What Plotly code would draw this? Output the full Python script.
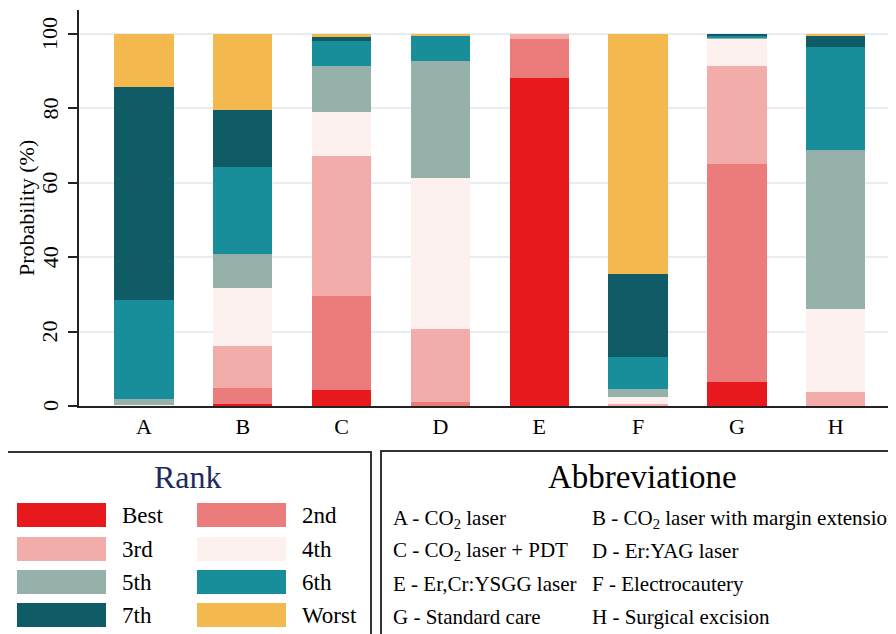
import plotly.graph_objects as go

categories = ["A", "B", "C", "D", "E", "F", "G", "H"]
rank_names = ["Best", "2nd", "3rd", "4th", "5th", "6th", "7th", "Worst"]
rank_colors = ["#E8191C", "#EC7B7B", "#F2ADAA", "#FDF1EF", "#95B1AA", "#188E9B", "#0F5B66", "#F3B94E"]

best = [0, 0.6, 4.3, 0, 88.3, 0, 6.4, 0]
second = [0, 4.3, 25.4, 1.0, 10.4, 0.2, 58.6, 0]
third = [0, 11.2, 37.4, 19.7, 1.3, 0.3, 26.5, 3.7]
fourth = [0.3, 15.7, 12.0, 40.7, 0, 1.8, 7.2, 22.3]
fifth = [1.6, 9.0, 12.4, 31.3, 0, 2.2, 0.4, 42.7]
sixth = [26.6, 23.4, 6.7, 6.8, 0, 8.8, 0.4, 27.8]
seventh = [57.3, 15.5, 1.0, 0.2, 0, 22.1, 0.5, 3.0]
worst = [14.2, 20.3, 0.8, 0.3, 0, 64.6, 0, 0.5]
series = [best, second, third, fourth, fifth, sixth, seventh, worst]

y_ticks = [0, 20, 40, 60, 80, 100]
y_title = "Probability (%)"

abbreviations = [
    "A - CO<sub>2</sub> laser", "B - CO<sub>2</sub> laser with margin extension",
    "C - CO<sub>2</sub> laser + PDT", "D - Er:YAG laser",
    "E - Er,Cr:YSGG laser", "F - Electrocautery",
    "G - Standard care", "H - Surgical excision",
]

FONT = "Liberation Serif, Times New Roman, serif"
OFF = 8  # page body margin
W, H = 896 - OFF, 634 - OFF
ML, MR, MT, MB = 79 - OFF, 0, 10 - OFF, 228
PW, PH = W - ML - MR, H - MT - MB


def px(x):
    return (x - OFF - ML) / PW


def py(y):
    return (H - MB - (y - OFF)) / PH


fig = go.Figure()
for name, vals, col in zip(rank_names, series, rank_colors):
    fig.add_trace(go.Bar(
        x=list(range(len(categories))), y=vals, name=name,
        marker=dict(color=col, line=dict(width=0)), width=0.6,
        showlegend=False,
    ))

shapes = []
annotations = []

# rotated y tick labels and title (placed on the y scale)
for v in y_ticks:
    annotations.append(dict(text=str(v), xref="paper", yref="y", x=px(50), y=v,
                            xanchor="center", yanchor="middle", textangle=-90, showarrow=False,
                            font=dict(family=FONT, size=22, color="#000000")))
annotations.append(dict(text=y_title, xref="paper", yref="paper", x=px(26), y=0.5,
                        xanchor="center", yanchor="middle", textangle=-90, showarrow=False,
                        font=dict(family=FONT, size=22, color="#000000")))

# Legend boxes
shapes.append(dict(type="rect", xref="paper", yref="paper",
                   x0=px(6), x1=px(371), y0=py(452), y1=py(650),
                   line=dict(color="#333333", width=2), fillcolor="rgba(0,0,0,0)"))
shapes.append(dict(type="rect", xref="paper", yref="paper",
                   x0=px(381), x1=px(910), y0=py(451), y1=py(650),
                   line=dict(color="#333333", width=2), fillcolor="rgba(0,0,0,0)"))

annotations.append(dict(text="Rank", xref="paper", yref="paper", x=px(188), y=py(477),
                        xanchor="center", yanchor="middle", showarrow=False,
                        font=dict(family=FONT, size=32, color="#1E2B5E")))
annotations.append(dict(text="Abbreviatione", xref="paper", yref="paper", x=px(642), y=py(477),
                        xanchor="center", yanchor="middle", showarrow=False,
                        font=dict(family=FONT, size=33, color="#000000")))

row_y = [515, 549, 582, 615]
sw_x = [(17, 106), (197, 286)]
lab_x = [120, 300]
for i, (name, col) in enumerate(zip(rank_names, rank_colors)):
    r, c = divmod(i, 2)
    yc = row_y[r]
    shapes.append(dict(type="rect", xref="paper", yref="paper",
                       x0=px(sw_x[c][0]), x1=px(sw_x[c][1]), y0=py(yc + 12), y1=py(yc - 12),
                       line=dict(width=0), fillcolor=col))
    annotations.append(dict(text=name, xref="paper", yref="paper", x=px(lab_x[c]), y=py(yc),
                            xanchor="left", yanchor="middle", showarrow=False,
                            font=dict(family=FONT, size=23, color="#000000")))

ab_row_y = [518, 550, 583, 616]
ab_x = [391, 590]
for i, t in enumerate(abbreviations):
    r, c = divmod(i, 2)
    annotations.append(dict(text=t, xref="paper", yref="paper", x=px(ab_x[c]), y=py(ab_row_y[r] + 1),
                            xanchor="left", yanchor="middle", showarrow=False,
                            font=dict(family=FONT, size=21, color="#000000")))

fig.update_layout(
    width=W, height=H,
    margin=dict(l=ML, r=MR, t=MT, b=MB, pad=0),
    barmode="stack",
    plot_bgcolor="white", paper_bgcolor="white",
    font=dict(family=FONT, size=22, color="#000000"),
    shapes=shapes, annotations=annotations,
    showlegend=False,
)
fig.update_xaxes(
    range=[-0.657, 7.61], tickvals=list(range(len(categories))), ticktext=categories,
    showline=True, linecolor="#222222", linewidth=1.5, ticks="", showgrid=False,
    zeroline=False, tickfont=dict(family=FONT, size=22), fixedrange=True,
)
fig.update_yaxes(
    range=[0, 106.45], tickvals=y_ticks, showticklabels=False,
    ticks="outside", ticklen=9, tickcolor="#222222", tickwidth=1.5,
    showline=True, linecolor="#222222", linewidth=1.5,
    showgrid=True, gridcolor="#E6EEF3", gridwidth=1.5, zeroline=False,
)

fig.write_html("out.html")
